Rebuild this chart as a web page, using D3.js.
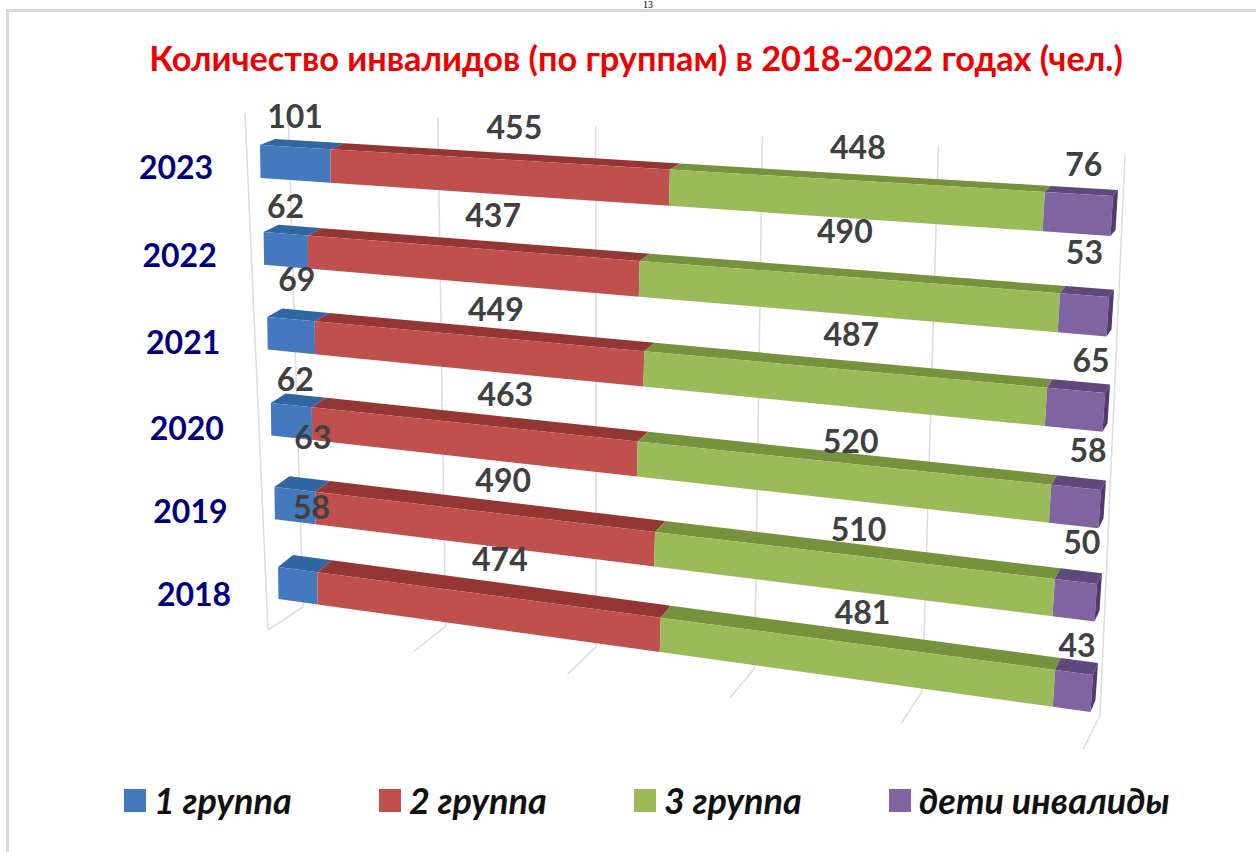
<!DOCTYPE html>
<html>
<head>
<meta charset="utf-8">
<script src="https://cdnjs.cloudflare.com/ajax/libs/d3/7.8.5/d3.min.js"></script>
<style>
  html, body { margin: 0; padding: 0; background: #fff; overflow: hidden; }
  text { font-family: Lato, "Open Sans", "Noto Sans", sans-serif; }
</style>
</head>
<body>
<div id="chart"></div>
<script>
// Data. Rows run top to bottom like the chart
const years = ["2023", "2022", "2021", "2020", "2019", "2018"];
const groups = ["1 группа", "2 группа", "3 группа", "дети инвалиды"];
const group1 = [101, 62, 69, 62, 63, 58];
const group2 = [455, 437, 449, 463, 490, 474];
const group3 = [448, 490, 487, 520, 510, 481];
const children = [76, 53, 65, 58, 50, 43];
const gridShares = [0, 0.2, 0.4, 0.6, 0.8, 1];

const titleText = "Количество инвалидов (по группам) в 2018-2022 годах (чел.)";

const series = [group1, group2, group3, children];
const faceColors = ["#4479be", "#c0504d", "#9bbb59", "#8064a2"];
const topColors = ["#2f66a3", "#943634", "#76923c", "#5f497a"];
const sideColor = "#54396f";

// labels were moved by hand in the original, so each one has its own nudge
// from the middle of its segment
const labelNudge = [
  [[0, -31], [19, -32], [6, -33], [5, -29]],
  [[0, -27], [24, -32], [2, -45], [0, -43]],
  [[6, -40], [21, -26], [12, -34], [15, -30]],
  [[4, -26], [35, -29], [13, -21], [12, -37]],
  [[18, -52], [23, -31], [10, -25], [6, -39]],
  [[14, -62], [16, -35], [11, -31], [3, -27]]
];

const width = 1256;
const height = 852;

const svg = d3.select("#chart")
  .append("svg")
  .attr("width", width)
  .attr("height", height);

// Perspective: the share axis gets wider towards the right
const persp = 0.128;
const shareToU = t => t * (1 - persp) / (1 - persp * t);

// Front plane of the bars, by row index
const rowIdx = years.map((d, i) => i);
const leftX = d3.scaleLinear().domain([0, 5]).range([260, 278]);
const rightX = d3.scaleLinear().domain([0, 5]).range([1113, 1093]);
const leftY = d3.scaleLinear().domain(rowIdx).range([145, 232, 317, 403, 487, 567]);
const rightY = d3.scaleLinear().domain(rowIdx).range([196, 297, 393, 490, 584, 675]);
const barHeightL = d3.scaleLinear().domain([0, 5]).range([33, 32]);
const barHeightR = d3.scaleLinear().domain([0, 5]).range([40, 37]);
const lean = d3.scaleLinear().domain([0, 1]).range([0.5, -2.5]);   // bottom edge drifts at the right
const depthX = d3.scaleLinear().domain([0, 1]).range([15, 5]);
const depthY = d3.scaleLinear().domain([0, 5]).range([6, 12]);

function corner(t, i, bottom, back) {
  const u = shareToU(t);
  let x = leftX(i) + (rightX(i) - leftX(i)) * u;
  let y = leftY(i) + (rightY(i) - leftY(i)) * u;
  if (bottom) {
    x += lean(u);
    y += barHeightL(i) + (barHeightR(i) - barHeightL(i)) * u;
  }
  if (back) {
    x += depthX(u);
    y -= depthY(i);
  }
  return [x, y];
}

// Walls and floor
const wallTopX = d3.scaleLinear().domain([0, 1]).range([288, 1125]);
const wallBotX = d3.scaleLinear().domain([0, 1]).range([303, 1100]);
const wallTopY = d3.scaleLinear().domain([0, 1]).range([110, 155]);
const wallBotY = d3.scaleLinear().domain([0, 1]).range([607, 715]);
const floorX = d3.scaleLinear().domain([0, 1]).range([268, 1083]);
const floorY = d3.scaleLinear().domain([0, 1]).range([630, 750]);

// Frame of the pasted picture, only top and left show
svg.append("path")
  .attr("d", "M7.5,852V10.5H1256")
  .attr("fill", "none")
  .attr("stroke", "#d8d8d8")
  .attr("stroke-width", 3);

// Page number above the picture
svg.append("text")
  .attr("x", 648)
  .attr("y", 8)
  .attr("text-anchor", "middle")
  .style("font-family", '"Liberation Serif", serif')
  .style("font-size", "10px")
  .attr("fill", "#000")
  .text("13");

svg.append("text")
  .attr("x", 636)
  .attr("y", 71)
  .attr("text-anchor", "middle")
  .style("font-size", "34.3px")
  .style("font-weight", "bold")
  .attr("fill", "#ee0000")
  .text(titleText);

const gridColor = "#dcdce2";
const grid = svg.append("g")
  .attr("fill", "none")
  .attr("stroke", gridColor)
  .attr("stroke-width", 1.5);

gridShares.forEach(s => {
  const u = shareToU(s);
  grid.append("line")
    .attr("x1", wallTopX(u)).attr("y1", wallTopY(u))
    .attr("x2", wallBotX(u)).attr("y2", wallBotY(u));
  grid.append("line")
    .attr("x1", wallBotX(u)).attr("y1", wallBotY(u))
    .attr("x2", floorX(u)).attr("y2", floorY(u));
});
// left wall corner
grid.append("line")
  .attr("x1", 245).attr("y1", 113)
  .attr("x2", floorX(0)).attr("y2", floorY(0));

// Bars
const poly = pts => pts.map(p => p.join(",")).join(" ");

years.forEach((year, i) => {
  const total = d3.sum(series, s => s[i]);
  const g = svg.append("g").attr("class", "bar");
  let cum = 0;
  series.forEach((s, j) => {
    const t0 = cum / total;
    const t1 = (cum + s[i]) / total;
    cum += s[i];
    g.append("polygon")
      .attr("points", poly([corner(t0, i, false, false), corner(t0, i, false, true), corner(t1, i, false, true), corner(t1, i, false, false)]))
      .attr("fill", topColors[j]);
    g.append("polygon")
      .attr("points", poly([corner(t0, i, false, false), corner(t1, i, false, false), corner(t1, i, true, false), corner(t0, i, true, false)]))
      .attr("fill", faceColors[j]);
    if (j === series.length - 1) {
      g.append("polygon")
        .attr("points", poly([corner(1, i, false, false), corner(1, i, false, true), corner(1, i, true, true), corner(1, i, true, false)]))
        .attr("fill", sideColor);
    }
  });
});

// Value labels
years.forEach((year, i) => {
  const total = d3.sum(series, s => s[i]);
  let cum = 0;
  series.forEach((s, j) => {
    const mid = (cum + s[i] / 2) / total;
    cum += s[i];
    const p = corner(mid, i, false, false);
    svg.append("text")
      .attr("x", p[0] + labelNudge[i][j][0])
      .attr("y", p[1] + labelNudge[i][j][1])
      .attr("dy", "0.36em")
      .attr("text-anchor", "middle")
      .style("font-size", "32px")
      .style("font-weight", "bold")
      .attr("fill", "#404040")
      .text(s[i]);
  });
});

// Year labels
const yearX = d3.scaleLinear().domain([0, 5]).range([176, 194]);
const yearY = d3.scaleLinear().domain(rowIdx).range([167, 255, 342, 428, 511, 594]);
svg.selectAll(".year")
  .data(years)
  .enter().append("text")
  .attr("class", "year")
  .attr("x", (d, i) => yearX(i))
  .attr("y", (d, i) => yearY(i))
  .attr("dy", "0.36em")
  .attr("text-anchor", "middle")
  .style("font-size", "32px")
  .style("font-weight", "bold")
  .attr("fill", "#000080")
  .text(d => d);

// Legend
const legendX = d3.scaleOrdinal().domain(groups).range([124, 379, 634, 889]);
const legend = svg.selectAll(".legend")
  .data(groups)
  .enter().append("g")
  .attr("class", "legend")
  .attr("transform", d => `translate(${legendX(d)},789)`);

legend.append("rect")
  .attr("width", 22)
  .attr("height", 23)
  .attr("fill", (d, i) => faceColors[i]);

legend.append("text")
  .attr("x", 30)
  .attr("y", 25)
  .style("font-size", "36px")
  .style("font-weight", "bold")
  .style("font-style", "italic")
  .attr("fill", "#111")
  .text(d => d);
</script>
</body>
</html>
